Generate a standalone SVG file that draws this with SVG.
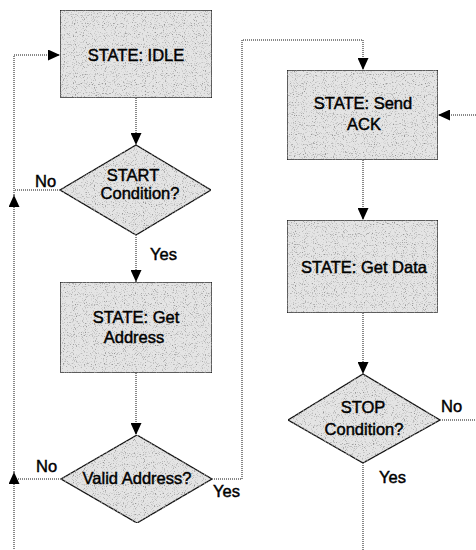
<svg xmlns="http://www.w3.org/2000/svg" width="476" height="550" viewBox="0 0 476 550">
  <style>
    .box { fill: #e4e4e4; stroke: #111; stroke-width: 1.3; }
    .flow { fill: none; stroke: #111; stroke-width: 1; stroke-dasharray: 1 1; }
    .arrow { marker-end: url(#head); }
    text { font-family: "Liberation Sans", Arial, sans-serif; font-size: 16.5px; fill: #000; stroke: #000; stroke-width: 0.45; }
    .c { text-anchor: middle; }
  </style>
  <defs>
    <marker id="head" markerUnits="userSpaceOnUse" markerWidth="12" markerHeight="11" refX="12" refY="5.5" orient="auto">
      <path d="M0,0 L12,5.5 L0,11 z" fill="#000"/>
    </marker>
    <!-- speckled print texture for the node shapes -->
    <filter id="grain" x="0" y="0" width="1" height="1">
      <feTurbulence type="fractalNoise" baseFrequency="0.9" numOctaves="1" seed="7" result="noise"/>
      <feColorMatrix in="noise" type="matrix" values="0 0 0 0 0.3  0 0 0 0 0.3  0 0 0 0 0.3  4.5 0 0 0 -2.45" result="dots"/>
      <feComposite in="dots" in2="SourceAlpha" operator="in" result="speck"/>
      <feMerge>
        <feMergeNode in="SourceGraphic"/>
        <feMergeNode in="speck"/>
      </feMerge>
    </filter>
  </defs>

  <g id="connectors">
    <path class="flow arrow" d="M136,98 V145"/>
    <path class="flow arrow" d="M136,235 V282"/>
    <path class="flow" d="M60,190 H14"/>
    <path class="flow arrow" d="M136,373 V435"/>
    <path class="flow" d="M61,479 H14"/>
    <path class="flow arrow" d="M14,549 V472"/>
    <path class="flow arrow" d="M14,472 V195"/>
    <path class="flow arrow" d="M14,195 V55 H60"/>
    <path class="flow arrow" d="M212,479 H242 V40 H363 V70"/>
    <path class="flow arrow" d="M363,160 V220"/>
    <path class="flow arrow" d="M363,313 V374"/>
    <path class="flow" d="M440,420 H476"/>
    <path class="flow arrow" d="M476,115 H438"/>
    <path class="flow" d="M363,463 V550"/>
  </g>

  <g id="state-idle">
    <rect class="box" filter="url(#grain)" x="60" y="10" width="152" height="88"/>
    <text class="c" x="136" y="61">STATE: IDLE</text>
  </g>

  <g id="start-condition">
    <polygon class="box" filter="url(#grain)" points="136,145 211,190 136,235 60,190"/>
    <text class="c" x="133" y="181">START</text>
    <text class="c" x="140" y="199">Condition?</text>
    <text x="35" y="187">No</text>
    <text x="150" y="260">Yes</text>
  </g>

  <g id="state-get-address">
    <rect class="box" filter="url(#grain)" x="60" y="282" width="152" height="91"/>
    <text class="c" x="136" y="323">STATE: Get</text>
    <text class="c" x="134" y="343">Address</text>
  </g>

  <g id="valid-address">
    <polygon class="box" filter="url(#grain)" points="137,435 212,479 137,523 61,479"/>
    <text class="c" x="137" y="484">Valid Address?</text>
    <text x="36" y="472">No</text>
    <text x="213" y="497">Yes</text>
  </g>

  <g id="state-send-ack">
    <rect class="box" filter="url(#grain)" x="287" y="70" width="151" height="90"/>
    <text class="c" x="363" y="109">STATE: Send</text>
    <text class="c" x="364" y="130">ACK</text>
  </g>

  <g id="state-get-data">
    <rect class="box" filter="url(#grain)" x="287" y="220" width="151" height="93"/>
    <text class="c" x="364" y="273">STATE: Get Data</text>
  </g>

  <g id="stop-condition">
    <polygon class="box" filter="url(#grain)" points="363,374 440,420 363,463 288,420"/>
    <text class="c" x="363" y="413">STOP</text>
    <text class="c" x="364" y="435">Condition?</text>
    <text x="441" y="412">No</text>
    <text x="379" y="483">Yes</text>
  </g>
</svg>
